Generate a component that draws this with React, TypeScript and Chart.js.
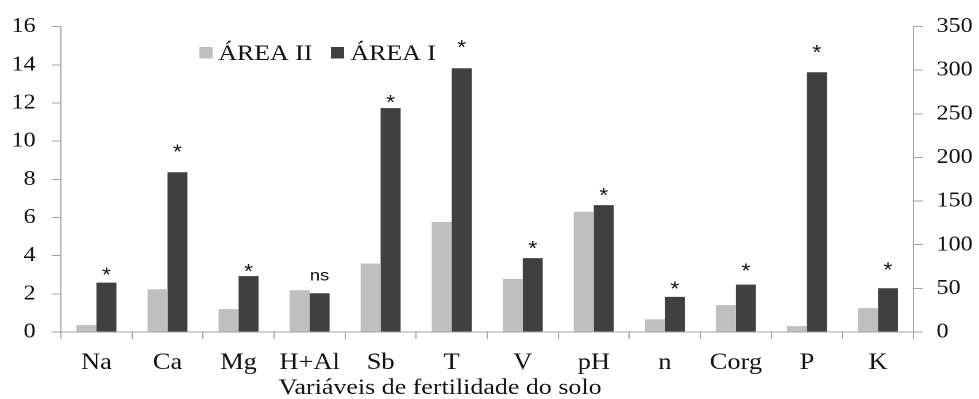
import React, { useEffect, useRef } from "react";
import { Chart, registerables } from "chart.js";

Chart.register(...registerables);

// Soil fertility variables and mean values for the two areas
const categories = ["Na", "Ca", "Mg", "H+Al", "Sb", "T", "V", "pH", "n", "Corg", "P", "K"];
const areaII = [0.36, 2.24, 1.2, 2.19, 3.59, 5.76, 2.78, 6.3, 0.66, 1.41, 0.31, 1.25];
const areaI = [2.59, 8.37, 2.93, 2.03, 11.73, 13.82, 3.87, 6.65, 1.84, 2.48, 13.61, 2.29];
// Significance marks over the ÁREA I bars, and the level (left-axis units) each one sits at
const significance = ["*", "*", "*", "ns", "*", "*", "*", "*", "*", "*", "*", "*"];
const markLevels = [3.23, 9.66, 3.4, 2.9, 12.26, 15.13, 4.62, 7.4, 2.5, 3.44, 14.87, 3.49];

const leftAxis = { min: 0, max: 16, step: 2 };
const rightAxis = { min: 0, max: 350, step: 50 };

const seriesNames = ["ÁREA II", "ÁREA I"];
const seriesColors = ["#bfbfbf", "#404040"];
const axisTitle = "Variáveis de fertilidade do solo";

// The drawing is laid out on a narrower canvas and widened with CSS,
// which gives the serif text its slightly stretched look.
const FULL_W = 979;
const H = 399;
const W = 852;
const SX = FULL_W / W;

const SERIF = "'Liberation Serif', 'Times New Roman', serif";
const SANS = "'Liberation Sans', Arial, sans-serif";
const AXIS_COLOR = "#a3a3a3";
const TEXT_COLOR = "#111111";

const marksPlugin = {
  id: "marks",
  afterDatasetsDraw(chart: any) {
    const ctx = chart.ctx;
    const meta = chart.getDatasetMeta(1);
    const yScale = chart.scales.y;
    ctx.save();
    ctx.fillStyle = TEXT_COLOR;
    ctx.textAlign = "center";
    ctx.textBaseline = "alphabetic";
    meta.data.forEach((bar: any, i: number) => {
      const mark = significance[i];
      const y = yScale.getPixelForValue(markLevels[i]);
      if (mark === "ns") {
        ctx.font = `16px ${SANS}`;
        ctx.fillText(mark, bar.x, y + 4);
      } else {
        ctx.font = `20px ${SANS}`;
        ctx.fillText(mark, bar.x, y + 11);
      }
    });
    ctx.restore();
  },
  afterDraw(chart: any) {
    const ctx = chart.ctx;
    ctx.save();
    // legend
    const legendItems = [
      { x: 173.5, textX: 190 },
      { x: 288, textX: 305 },
    ];
    ctx.font = `22.5px ${SERIF}`;
    ctx.textAlign = "left";
    ctx.textBaseline = "alphabetic";
    legendItems.forEach((it, i) => {
      ctx.fillStyle = seriesColors[i];
      ctx.fillRect(it.x, 47, 11.5, 11.5);
      ctx.fillStyle = TEXT_COLOR;
      ctx.fillText(seriesNames[i], it.textX, 60);
    });
    // x axis title
    ctx.font = `22.6px ${SERIF}`;
    ctx.textAlign = "center";
    ctx.fillText(axisTitle, 383, 394);
    ctx.restore();
  },
};

export default function App() {
  const canvasRef = useRef<HTMLCanvasElement | null>(null);

  useEffect(() => {
    if (!canvasRef.current) return;
    const chart = new Chart(canvasRef.current, {
      type: "bar",
      data: {
        labels: categories,
        datasets: [
          {
            label: seriesNames[0],
            data: areaII,
            backgroundColor: seriesColors[0],
            borderWidth: 0,
            yAxisID: "y",
          },
          {
            label: seriesNames[1],
            data: areaI,
            backgroundColor: seriesColors[1],
            borderWidth: 0,
            yAxisID: "y",
          },
        ],
      },
      options: {
        animation: false,
        responsive: true,
        maintainAspectRatio: false,
        devicePixelRatio: 2,
        layout: { padding: { top: 25, left: 0, right: 0, bottom: 0 } },
        datasets: {
          bar: { categoryPercentage: 0.5625, barPercentage: 1 },
        },
        plugins: {
          legend: { display: false },
          tooltip: { enabled: false },
        },
        scales: {
          x: {
            offset: true,
            grid: {
              offset: true,
              drawOnChartArea: false,
              drawTicks: true,
              tickLength: 7,
              color: AXIS_COLOR,
            },
            border: { display: true, color: AXIS_COLOR },
            ticks: {
              autoSkip: false,
              maxRotation: 0,
              padding: 10,
              color: TEXT_COLOR,
              font: { family: SERIF, size: 23 },
            },
            afterFit(scale: any) {
              scale.height = 67;
            },
          },
          y: {
            position: "left",
            min: leftAxis.min,
            max: leftAxis.max,
            grid: {
              drawOnChartArea: false,
              drawTicks: true,
              tickLength: 8,
              color: AXIS_COLOR,
            },
            border: { display: true, color: AXIS_COLOR },
            ticks: {
              stepSize: leftAxis.step,
              padding: 14,
              color: TEXT_COLOR,
              font: { family: SERIF, size: 21 },
            },
            afterFit(scale: any) {
              scale.width = 53;
            },
          },
          y1: {
            position: "right",
            min: rightAxis.min,
            max: rightAxis.max,
            grid: {
              drawOnChartArea: false,
              drawTicks: true,
              tickLength: 8,
              color: AXIS_COLOR,
            },
            border: { display: true, color: AXIS_COLOR },
            ticks: {
              stepSize: rightAxis.step,
              padding: 12,
              color: TEXT_COLOR,
              font: { family: SERIF, size: 21 },
            },
            afterFit(scale: any) {
              scale.width = 57;
            },
          },
        },
      },
      plugins: [marksPlugin],
    });
    return () => chart.destroy();
  }, []);

  return (
    <div
      style={{
        position: "absolute",
        left: 0,
        top: 0,
        width: FULL_W,
        height: H,
        overflow: "hidden",
        background: "#ffffff",
      }}
    >
      <div
        style={{
          position: "relative",
          width: W,
          height: H,
          transform: `scaleX(${SX})`,
          transformOrigin: "0 0",
        }}
      >
        <canvas ref={canvasRef} />
      </div>
    </div>
  );
}
